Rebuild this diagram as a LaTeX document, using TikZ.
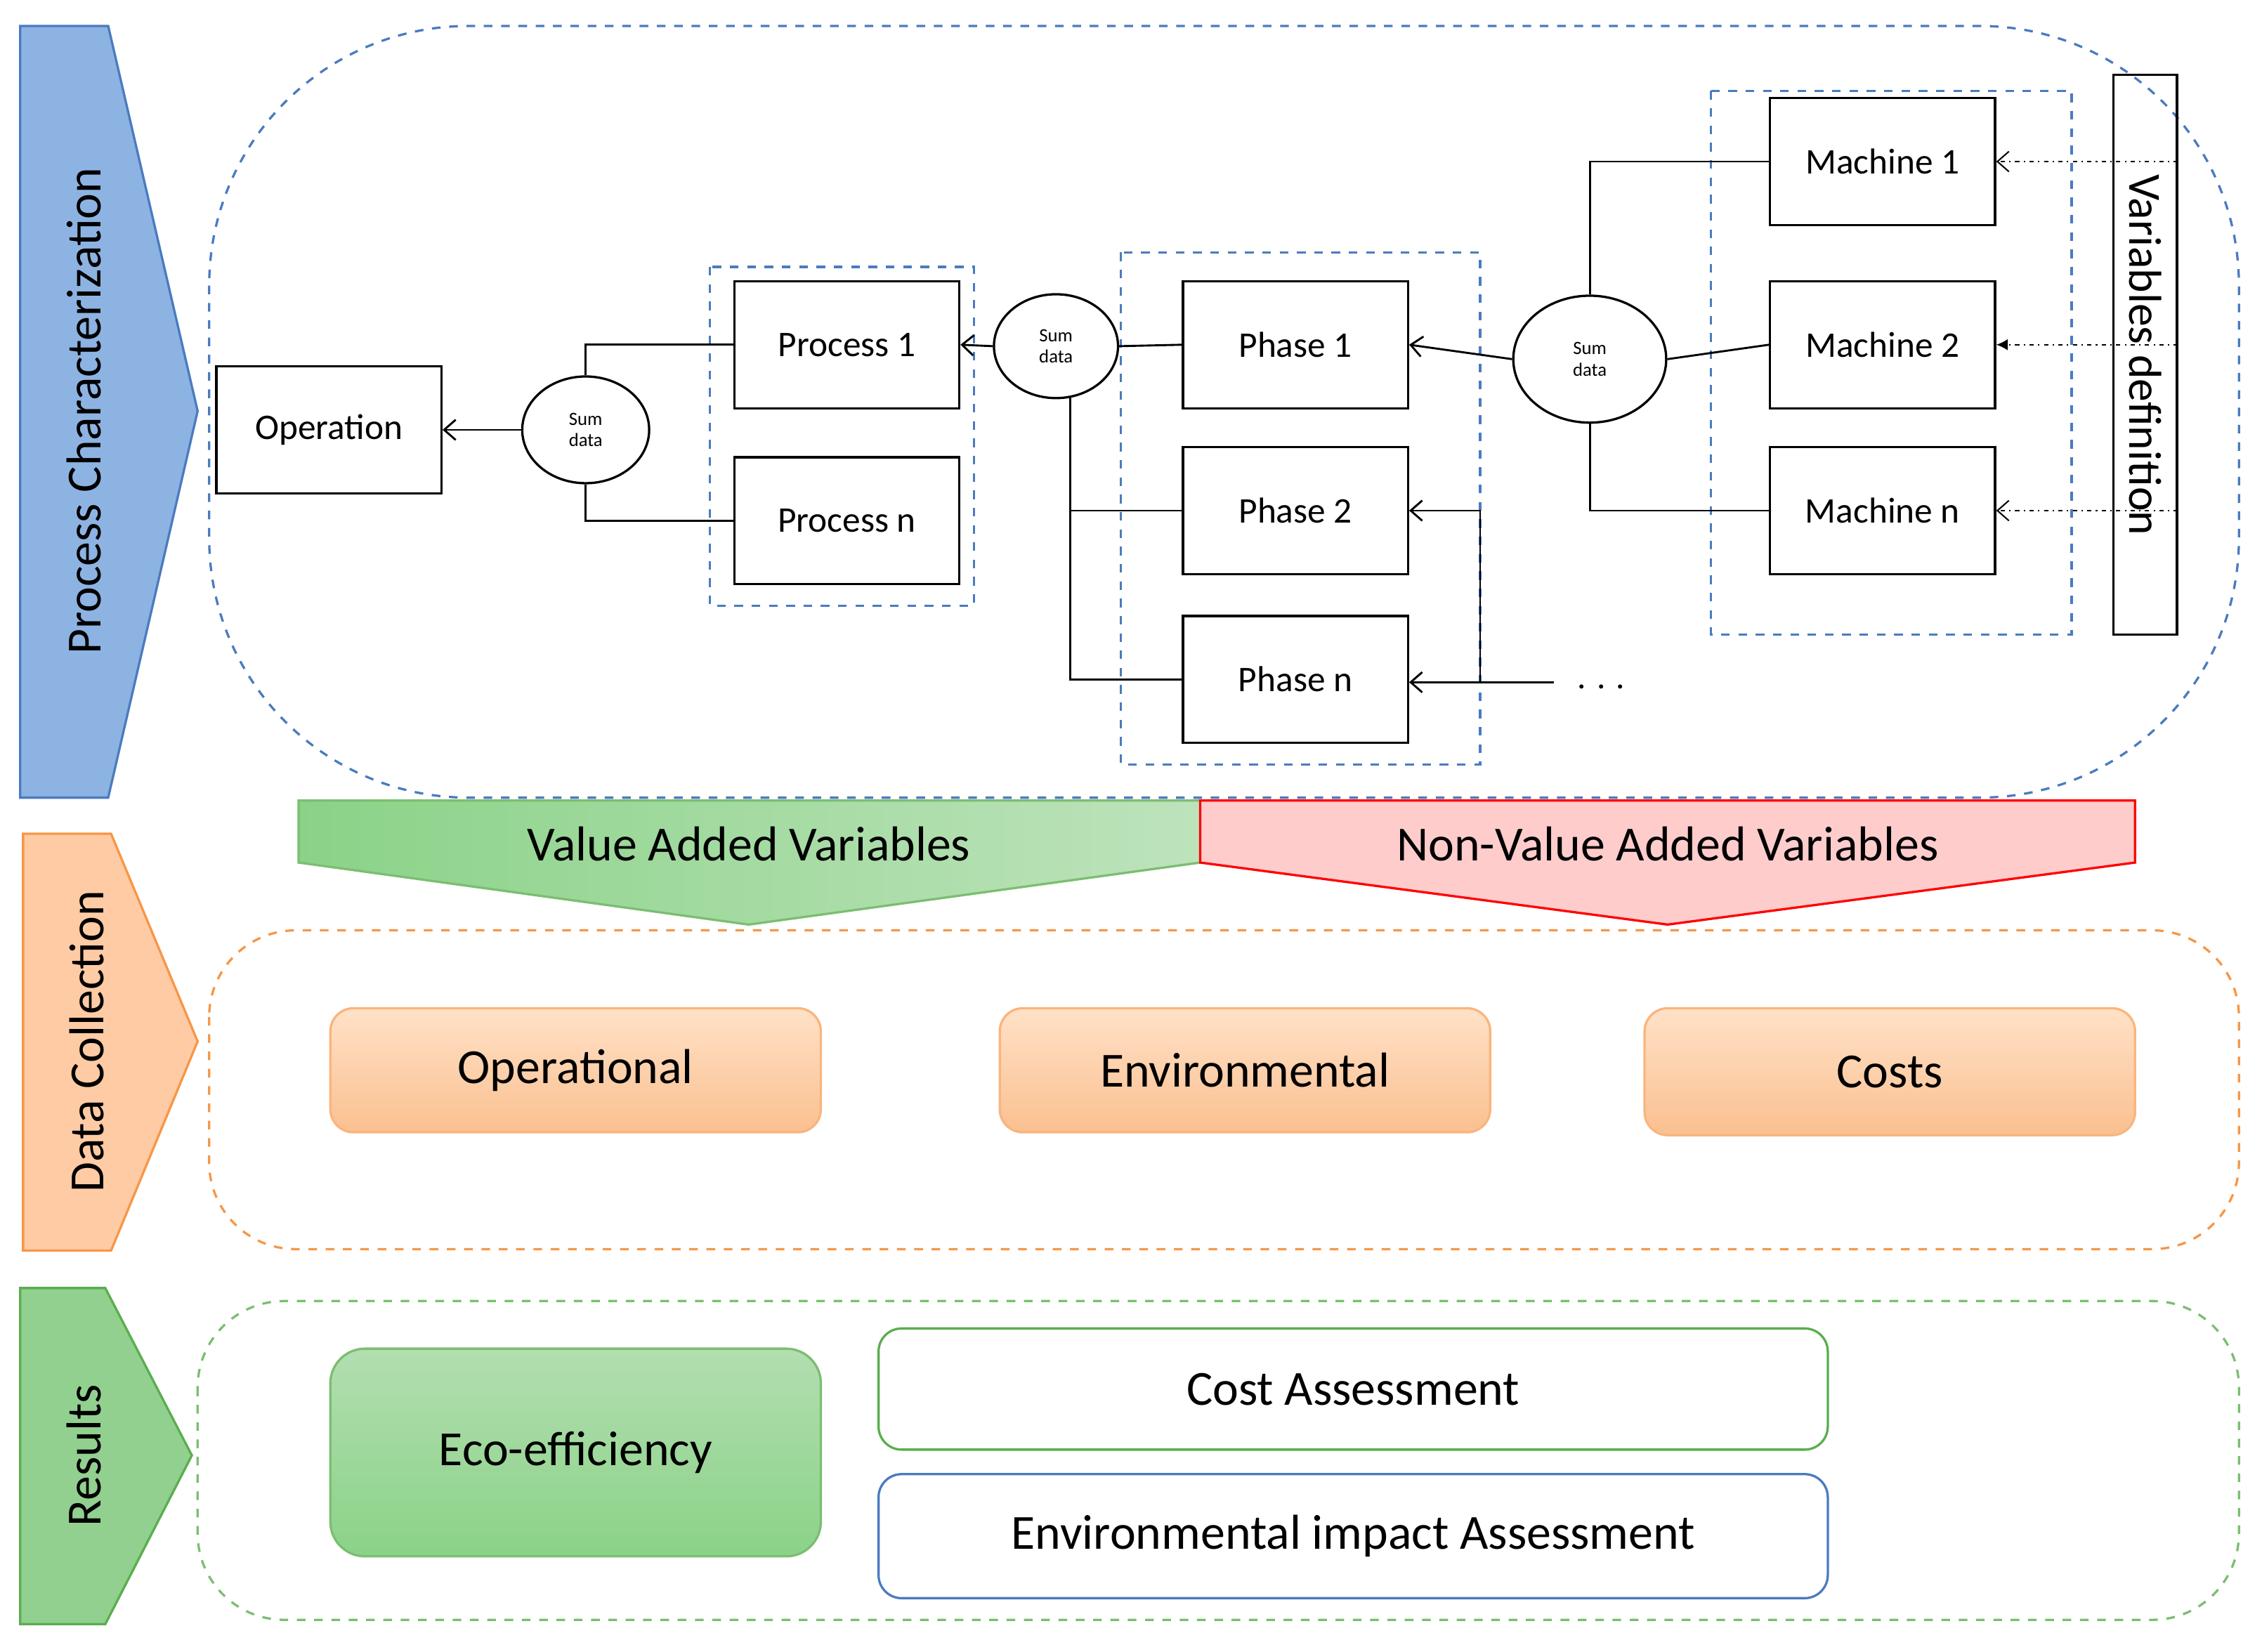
\documentclass[tikz,border=0pt]{standalone}
\usepackage{fontspec}
\setmainfont{Carlito}
\usetikzlibrary{arrows.meta,shapes.geometric}
\definecolor{dblue}{HTML}{4A7BC0}
\definecolor{chblue}{HTML}{8DB3E2}
\definecolor{chorange}{HTML}{FFCBA4}
\definecolor{borange}{HTML}{F79646}
\definecolor{chgreen}{HTML}{92D08F}
\definecolor{bgreen}{HTML}{5AAE4E}
\begin{document}
\begin{tikzpicture}[x=0.5pt,y=-0.5pt,
 box/.style={draw,line width=0.8pt,font=\fontsize{12.5}{14}\selectfont},
 sum/.style={draw,ellipse,line width=0.8pt,font=\fontsize{6.5}{7.5}\selectfont,align=center,inner sep=0pt},
 ln/.style={line width=0.7pt},
 arr/.style={ln,-{Straight Barb[length=4pt,width=7pt]}},
 dd/.style={line width=0.5pt,dash pattern=on 1.5pt off 1.5pt on 0.5pt off 1.5pt},
 big/.style={font=\fontsize{17}{20}\selectfont},
 obox/.style={draw=borange!70,line width=0.8pt,rounded corners=8pt,top color=chorange!70!orange!40,bottom color=borange!60,big}]
\useasboundingbox (0,0) rectangle (1568,1145);
% chevrons
\draw[fill=chblue,draw=dblue,line width=0.8pt] (14,18)--(75,18)--(137,285)--(75,553)--(14,553)--cycle;
\node[rotate=90,big] (pc) at (58,285) {Process Characterization};
\draw[fill=chorange,draw=borange,line width=0.8pt] (16,578)--(77,578)--(137,722)--(77,867)--(16,867)--cycle;
\node[rotate=90,big] (dc) at (60,722) {Data Collection};
\draw[fill=chgreen,draw=bgreen,line width=0.8pt] (14,893)--(73,893)--(133,1009)--(73,1126)--(14,1126)--cycle;
\node[rotate=90,big] (rs) at (58,1009) {Results};
% dashed frames
\draw[dblue,dashed,line width=0.8pt,rounded corners=90pt] (145,18) rectangle (1552,553);
\draw[borange,dashed,line width=0.8pt,rounded corners=30pt] (145,645) rectangle (1552,866);
\draw[bgreen!80,dashed,line width=0.8pt,rounded corners=30pt] (137,902) rectangle (1552,1123);
\draw[dblue,dashed,line width=0.8pt] (492,185) rectangle (675,420);
\draw[dblue,dashed,line width=0.8pt] (777,175) rectangle (1026,530);
\draw[dblue,dashed,line width=0.8pt] (1186,63) rectangle (1436,440);
% boxes
\node[box,minimum width=78pt,minimum height=44pt] (op) at (228,298) {Operation};
\node[sum,minimum width=44pt,minimum height=37pt] (s1) at (406,298) {Sum\\data};
\node[box,minimum width=78pt,minimum height=44pt] (p1) at (587,239) {Process 1};
\node[box,minimum width=78pt,minimum height=44pt] (pn) at (587,361) {Process n};
\node[sum,minimum width=43pt,minimum height=36pt] (s2) at (732,240) {Sum\\data};
\node[box,minimum width=78pt,minimum height=44pt] (f1) at (898,239) {Phase 1};
\node[box,minimum width=78pt,minimum height=44pt] (f2) at (898,354) {Phase 2};
\node[box,minimum width=78pt,minimum height=44pt] (fn) at (898,471) {Phase n};
\node[sum,minimum width=53pt,minimum height=44pt] (s3) at (1102,249) {Sum\\data};
\node[box,minimum width=78pt,minimum height=44pt] (m1) at (1305,112) {Machine 1};
\node[box,minimum width=78pt,minimum height=44pt] (m2) at (1305,239) {Machine 2};
\node[box,minimum width=78pt,minimum height=44pt] (mn) at (1305,354) {Machine n};
\node[box,draw,rotate=-90,minimum width=194pt,minimum height=22pt,inner sep=0pt,font=\fontsize{16}{18}\selectfont] (vd) at (1487,246) {Variables definition};
\node[font=\fontsize{12}{14}\selectfont] (dots) at (1110,476) {. . .};
\coordinate (e1) at (1077,473);
% connectors
\draw[arr] (s1.west) -- (op.east);
\draw[ln] (s1.north) |- (p1.west);
\draw[ln] (s1.south) |- (pn.west);
\draw[arr] (s2.west) -- (p1.east);
\draw[ln] (s2.east) -- (f1.west);
\draw[ln] (742,275) |- (fn.west);
\draw[ln] (742,354) -- (f2.west);
\draw[arr] (s3.west) -- (f1.east);
\draw[ln] (s3.east) -- (m2.west);
\draw[ln] (s3.north) |- (m1.west);
\draw[ln] (s3.south) |- (mn.west);
\draw[arr] (e1) -- (fn.east |- e1);
\draw[arr] (1026,473) |- (f2.east);
\draw[dd,-{Straight Barb[length=4pt,width=7pt]}] (vd.north |- m1) -- (m1.east);
\draw[dd,-{Latex[length=4pt,width=4pt]}] (vd.north |- m2) -- (m2.east);
\draw[dd,-{Straight Barb[length=4pt,width=7pt]}] (vd.north |- mn) -- (mn.east);
% variable banners
\draw[draw=bgreen!80,left color=chgreen!95!green,right color=chgreen!60,line width=0.8pt] (207,555)--(832,555)--(832,598)--(519,641)--(207,598)--cycle;
\node[big] (va) at (519,585) {Value Added Variables};
\draw[draw=red,fill=red!20,line width=0.8pt] (832,555)--(1480,555)--(1480,598)--(1156,641)--(832,598)--cycle;
\node[big] (nva) at (1156,585) {Non-Value Added Variables};
% data collection
\node[obox,minimum width=170pt,minimum height=43pt] (o1) at (399,742) {Operational};
\node[obox,minimum width=170pt,minimum height=43pt] (o2) at (863,742) {Environmental};
\node[obox,minimum width=170pt,minimum height=44pt] (o3) at (1310,743) {Costs};
% results
\node[draw=bgreen!80,line width=0.8pt,rounded corners=12pt,top color=chgreen!70,bottom color=chgreen!95!green,big,minimum width=170pt,minimum height=72pt] (eco) at (399,1007) {Eco-efficiency};
\node[draw=bgreen,line width=0.8pt,rounded corners=8pt,fill=white,big,minimum width=329pt,minimum height=42pt] (ca) at (938,963) {Cost Assessment};
\node[draw=dblue,line width=0.8pt,rounded corners=8pt,fill=white,big,minimum width=329pt,minimum height=43pt] (ea) at (938,1065) {Environmental impact Assessment};
\end{tikzpicture}
\end{document}
